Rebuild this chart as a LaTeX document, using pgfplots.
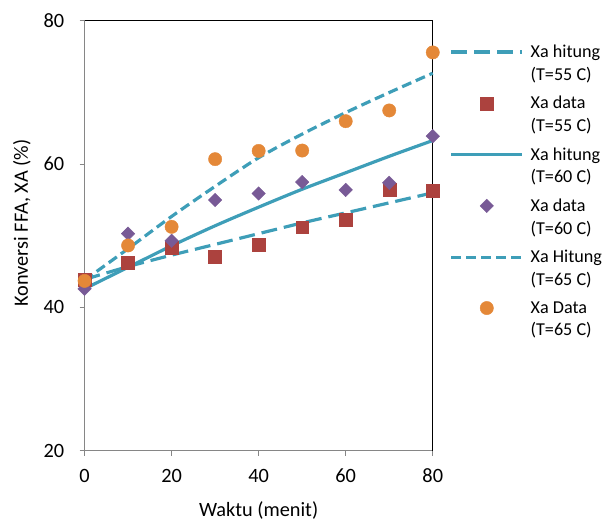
\documentclass[border=0pt]{standalone}
\usepackage{pgfplots}
\pgfplotsset{compat=1.18}
\usepackage{fontspec}
\setmainfont{Carlito}
\definecolor{tealc}{RGB}{62,158,184}
\definecolor{redc}{RGB}{172,66,62}
\definecolor{purpc}{RGB}{120,90,150}
\definecolor{oranc}{RGB}{228,136,56}
\definecolor{axgray}{RGB}{134,134,134}
\pgfplotsset{
  lineleg/.style={legend image code/.code={\draw[##1,yshift=11.5bp] (0bp,0bp) -- (71bp,0bp);}},
  markleg/.style={legend image code/.code={\draw[##1,yshift=11.5bp] plot coordinates {(35.5bp,0bp)};}},
}
\begin{document}
\begin{tikzpicture}
\path (-85bp,-71bp) rectangle (517bp,453bp);
\begin{axis}[
  at={(0,0)}, anchor=south west,
  scale only axis, width=350bp, height=432bp,
  xmin=0, xmax=80, ymin=20, ymax=80,
  xtick={0,20,40,60,80}, ytick={20,40,60,80},
  axis x line*=bottom, axis y line*=left,
  axis line style={axgray, line width=1.2bp, -},
  tick style={axgray, line width=1.2bp},
  major tick length=5bp, tick align=outside,
  clip=false,
  /pgf/number format/assume math mode=true,
  ticklabel style={font=\fontsize{20.5}{24}\selectfont},
  xticklabel style={yshift=-10bp},
  yticklabel style={xshift=-12bp},
  xlabel={Waktu (menit)}, ylabel={Konversi FFA, XA (\%)},
  every axis x label/.style={at={(axis description cs:0.5,-0.139)}, anchor=center,
    font=\fontsize{20.5}{24}\selectfont},
  every axis y label/.style={at={(axis description cs:-0.18,0.53)}, anchor=center, rotate=90,
    font=\fontsize{20.5}{24}\selectfont},
  legend style={at={(axis description cs:1,1)}, anchor=north west, xshift=17bp, yshift=-24bp,
    draw=none, fill=none, inner sep=0bp, column sep=7bp, row sep=14.5bp,
    font=\fontsize{18.3}{23}\selectfont,
    nodes={inner sep=0bp}, cells={align=left, anchor=west}},
]
\draw[black, line width=1.2bp] (rel axis cs:0,1) -- (rel axis cs:1,1) -- (rel axis cs:1,0);
\addplot[tealc, line width=3.2bp, dash pattern=on 16bp off 7bp, smooth, lineleg]
  coordinates {(0,43.9) (10,45.7) (20,47.3) (30,48.8) (40,50.3) (50,51.8) (60,53.2) (70,54.6) (80,56.0)};
\addlegendentry{Xa hitung\\(T=55 C)}
\addplot[only marks, mark=square*, mark size=6.5bp, redc, mark options={fill=redc, draw=redc}, markleg]
  coordinates {(0,43.9) (10,46.25) (20,48.3) (30,47.1) (40,48.75) (50,51.2) (60,52.3) (70,56.4) (80,56.3)};
\addlegendentry{Xa data\\(T=55 C)}
\addplot[tealc, line width=3.2bp, smooth, lineleg]
  coordinates {(0,42.6) (10,45.6) (20,48.6) (30,51.4) (40,54.0) (50,56.5) (60,58.8) (70,61.1) (80,63.3)};
\addlegendentry{Xa hitung\\(T=60 C)}
\addplot[only marks, mark=square*, mark size=4.8bp, purpc, mark options={rotate=45, fill=purpc, draw=purpc}, markleg]
  coordinates {(0,42.6) (10,50.3) (20,49.3) (30,55.0) (40,55.9) (50,57.5) (60,56.4) (70,57.4) (80,63.9)};
\addlegendentry{Xa data\\(T=60 C)}
\addplot[tealc, line width=3.2bp, dash pattern=on 10bp off 5bp, smooth, lineleg]
  coordinates {(0,43.8) (10,48.2) (20,52.7) (30,56.9) (40,60.9) (50,64.2) (60,67.2) (70,70.0) (80,72.7)};
\addlegendentry{Xa Hitung\\(T=65 C)}
\addplot[only marks, mark=*, mark size=6.7bp, oranc, mark options={fill=oranc, draw=oranc}, markleg]
  coordinates {(0,43.7) (10,48.65) (20,51.25) (30,60.7) (40,61.85) (50,61.9) (60,66.0) (70,67.5) (80,75.6)};
\addlegendentry{Xa Data\\(T=65 C)}
\end{axis}
\end{tikzpicture}
\end{document}
